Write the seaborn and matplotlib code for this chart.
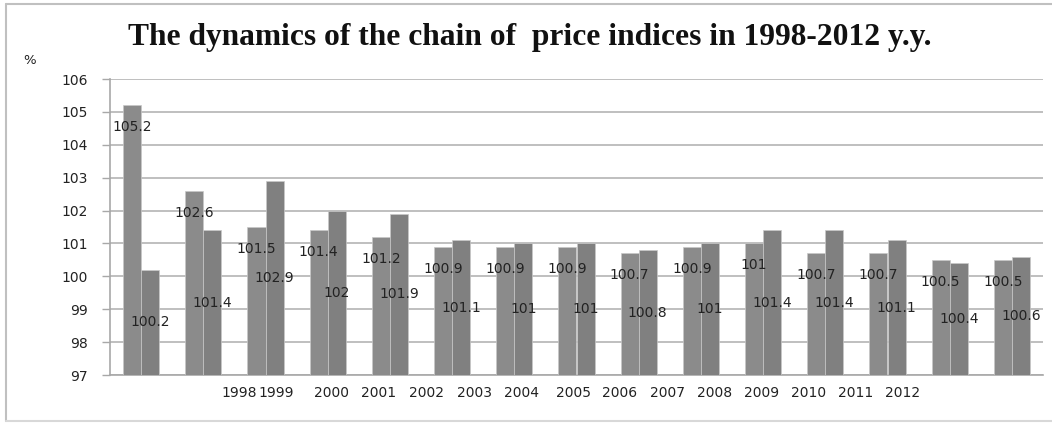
import matplotlib
matplotlib.use("Agg")
import matplotlib.pyplot as plt
import seaborn as sns
import pandas as pd
from matplotlib.lines import Line2D

# ---- data ----
groups = [str(i) for i in range(1, 16)]
series_a = [105.2, 102.6, 101.5, 101.4, 101.2, 100.9, 100.9, 100.9, 100.7, 100.9, 101.0, 100.7, 100.7, 100.5, 100.5]
series_b = [100.2, 101.4, 102.9, 102.0, 101.9, 101.1, 101.0, 101.0, 100.8, 101.0, 101.4, 101.4, 101.1, 100.4, 100.6]
year_labels = ["1998", "1999", "2000", "2001", "2002", "2003", "2004", "2005",
               "2006", "2007", "2008", "2009", "2010", "2011", "2012"]
title = "The dynamics of the chain of  price indices in 1998-2012 y.y."
y_ticks = [97, 98, 99, 100, 101, 102, 103, 104, 105, 106]

# layout (not data): where the year labels sit along the category axis
year_label_pos = [1.574, 2.169, 3.069, 3.825, 4.596, 5.368, 6.108, 6.944,
                  7.699, 8.455, 9.227, 9.982, 10.738, 11.494, 12.249]

df = pd.DataFrame({
    "group": groups * 2,
    "value": series_a + series_b,
    "series": ["a"] * len(groups) + ["b"] * len(groups),
})

sns.set_theme(style="white")
plt.rcParams["font.family"] = ["DejaVu Sans"]

fig = plt.figure(figsize=(10.52, 4.23), dpi=100)
ax = fig.add_axes([110 / 1052, 1 - 375 / 423, (1043 - 110) / 1052, (375 - 79) / 423])

sns.barplot(data=df, x="group", y="value", hue="series", order=groups,
            palette=["#8b8b8b", "#808080"], width=0.58, gap=0,
            edgecolor="#c8c8c8", linewidth=0.5, legend=False, ax=ax, zorder=3)

ax.set_ylim(97, 106)
ax.set_xlim(-0.5, len(groups) - 0.5)
ax.set_yticks(y_ticks)
ax.yaxis.grid(True, color="#b4b4b4", linewidth=1.2, zorder=0)
ax.set_axisbelow(True)
ax.tick_params(axis="y", length=6, width=1.0, color="#a8a8a8", labelsize=10,
               labelcolor="#222222", pad=10, left=True)
ax.set_xticks(year_label_pos)
ax.set_xticklabels(year_labels)
ax.tick_params(axis="x", length=0, labelsize=10, labelcolor="#222222", pad=8)
ax.set_xlabel("")
ax.set_ylabel("")
for s in ["top", "right"]:
    ax.spines[s].set_visible(False)
ax.spines["left"].set_color("#a8a8a8")
ax.spines["left"].set_linewidth(1.2)
ax.spines["bottom"].set_color("#a8a8a8")
ax.spines["bottom"].set_linewidth(1.2)

# data labels
cont_a, cont_b = ax.containers[0], ax.containers[1]
for patch, v in zip(cont_a, series_a):
    x = patch.get_x() + patch.get_width() / 2
    ax.annotate(f"{v:g}", (x, v), xytext=(0, -22), textcoords="offset pixels",
                ha="center", va="center", fontsize=10, color="#222222", zorder=5)
ymin = ax.get_ylim()[0]
for patch, v in zip(cont_b, series_b):
    x = patch.get_x() + patch.get_width() / 2
    ax.text(x, (ymin + v) / 2, f"{v:g}", ha="center", va="center",
            fontsize=10, color="#222222", zorder=5)

fig.text(530 / 1052, 1 - 37 / 423, title, ha="center", va="center",
         fontsize=22.7, fontweight="bold", family=["Liberation Serif", "DejaVu Serif"],
         color="#111111")
fig.text(30 / 1052, 1 - 60 / 423, "%", ha="center", va="center", fontsize=9.5, color="#222222")

# outer chart border
bc = "#c0c0c0"
fig.add_artist(Line2D([6 / 1052, 6 / 1052], [1 - 4 / 423, 1 - 421 / 423], transform=fig.transFigure, color=bc, lw=1.5))
fig.add_artist(Line2D([6 / 1052, 1], [1 - 4 / 423, 1 - 4 / 423], transform=fig.transFigure, color=bc, lw=1.5))
fig.add_artist(Line2D([6 / 1052, 1], [1 - 421 / 423, 1 - 421 / 423], transform=fig.transFigure, color="#d8d8d8", lw=1.5))

fig.savefig("out.png", dpi=100)
